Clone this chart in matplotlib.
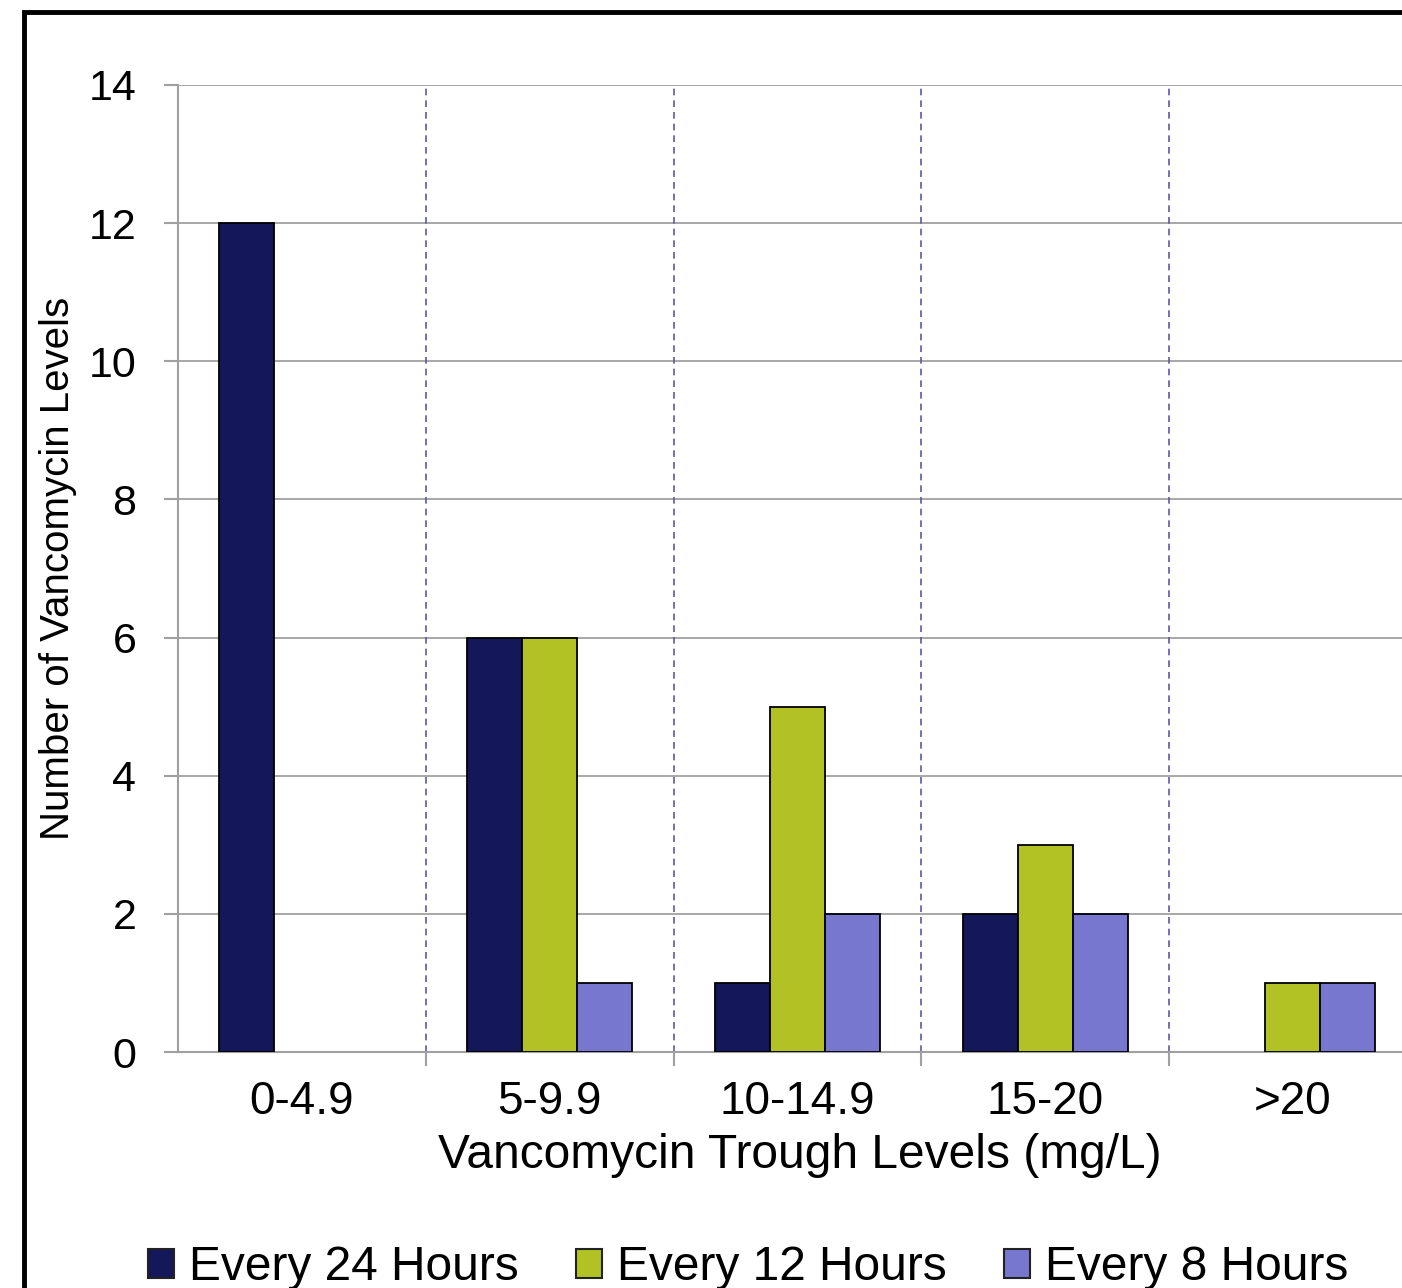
import matplotlib
matplotlib.use("Agg")
import matplotlib.pyplot as plt
from matplotlib.patches import Rectangle, Patch
import numpy as np

categories = ["0-4.9", "5-9.9", "10-14.9", "15-20", ">20"]
series_names = ["Every 24 Hours", "Every 12 Hours", "Every 8 Hours"]
every24 = [12, 6, 1, 2, 0]
every12 = [0, 6, 5, 3, 1]
every8 = [0, 1, 2, 2, 1]
colors = ["#14185a", "#b2c224", "#7777d0"]
yticks = [0, 2, 4, 6, 8, 10, 12, 14]

plt.rcParams['font.family'] = ['Liberation Sans', 'DejaVu Sans']

W, H = 1402, 1288
fig = plt.figure(figsize=(W / 100, H / 100), dpi=100)
fig.patch.set_facecolor('white')
ax = fig.add_axes([178 / W, (H - 1052) / H, 1 - 178 / W, (1052 - 85) / H])

x = np.arange(len(categories))
bw = 0.222
for i, (vals, c, name) in enumerate(zip([every24, every12, every8], colors, series_names)):
    edges = ['black' if v > 0 else 'none' for v in vals]
    ax.bar(x + (i - 1) * bw, vals, width=bw, color=c, edgecolor=edges,
           linewidth=1.3, zorder=3)

ax.set_xlim(-0.5, -0.5 + (W - 178) / 247.75)
ax.set_ylim(0, 14)
ax.set_yticks(yticks)
ax.set_yticklabels([str(v) for v in yticks], fontsize=31)
ax.set_xticks(x)
ax.set_xticklabels(categories, fontsize=33)
ax.set_xticks(np.arange(len(categories) - 1) + 0.5, minor=True)
ax.tick_params(axis='x', which='major', length=0, pad=20)
ax.tick_params(axis='x', which='minor', length=10, color='#a0a0a0', width=1.5)
ax.tick_params(axis='y', length=10, color='#a0a0a0', width=1.5, pad=20)

for yv in yticks[1:]:
    ax.axhline(yv, color='#a0a0a0', linewidth=1.3, zorder=1)
for b in np.arange(len(categories) - 1) + 0.5:
    ax.axvline(b, color='#5a5aa5', linewidth=1.2, linestyle=(0, (4, 3)), zorder=1)

for s in ['top', 'right']:
    ax.spines[s].set_visible(False)
for s in ['left', 'bottom']:
    ax.spines[s].set_color('#a0a0a0')
    ax.spines[s].set_linewidth(1.5)

fig.text(800 / W, 1 - 1155 / H, "Vancomycin Trough Levels (mg/L)",
         fontsize=34.5, ha='center', va='center')
fig.text(58 / W, 1 - 568 / H, "Number of Vancomycin Levels", rotation=90,
         fontsize=29, ha='center', va='center')

fig.add_artist(Rectangle((24 / W, -0.1), 2, (H - 12) / H + 0.1,
                         transform=fig.transFigure, fill=False,
                         linewidth=3.5, edgecolor='black'))

handles = [Patch(facecolor=c, edgecolor='#222222', linewidth=1.5) for c in colors]
leg = fig.legend(handles, series_names, loc='center',
                 bbox_to_anchor=(748 / W, (H - 1268) / H), ncol=3,
                 fontsize=34.5, frameon=False, handlelength=0.55, handleheight=0.55,
                 handletextpad=0.3, columnspacing=1.2, borderaxespad=0)

fig.savefig("out.png", dpi=100)
